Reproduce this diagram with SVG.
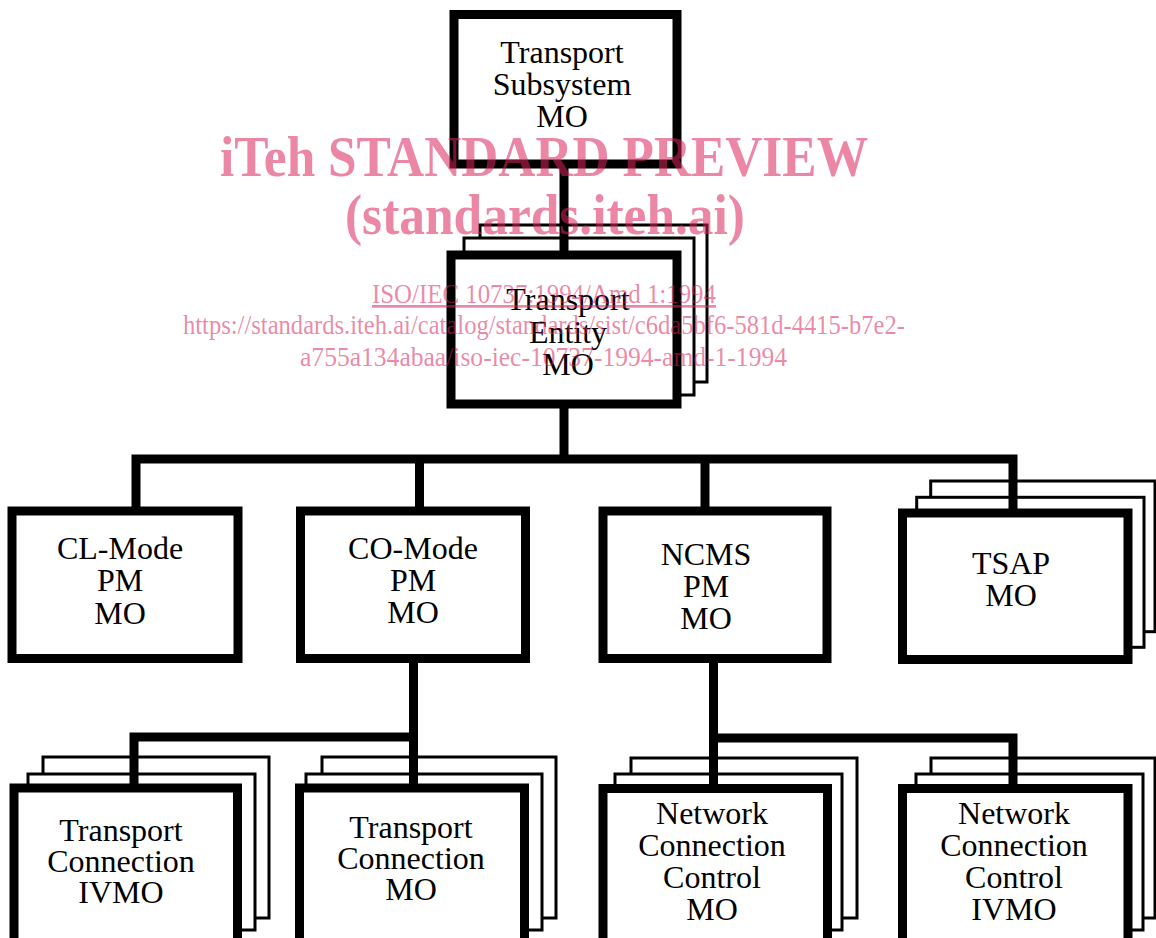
<svg xmlns="http://www.w3.org/2000/svg" width="1156" height="938" viewBox="0 0 1156 938">
<style>
.box{fill:#fff;stroke:#000;stroke-width:9}
.sheet{fill:#fff;stroke:#000;stroke-width:3}
.conn{fill:none;stroke:#000;stroke-width:9;stroke-linejoin:miter;stroke-linecap:butt}
.lbl{font-family:"Liberation Serif","Times New Roman",serif;font-size:32px;fill:#000;text-anchor:middle}
.wm{font-family:"Liberation Serif","Times New Roman",serif;fill:#DA245B;fill-opacity:0.55;text-anchor:middle}
.wmb{font-weight:bold;font-size:56px}
.wms{font-size:27px}
</style>
<rect width="1156" height="938" fill="#fff"/>
<g id="node-transport-subsystem">
<rect class="box" x="454" y="14.5" width="223" height="149.5"/>
<text class="lbl"><tspan x="562" y="63">Transport</tspan><tspan x="562" y="95">Subsystem</tspan><tspan x="562" y="127">MO</tspan></text>
</g>
<g id="node-transport-entity">
<rect class="sheet" x="480" y="225" width="227" height="157"/>
<rect class="sheet" x="464" y="238" width="230" height="157"/>
<rect class="box" x="451" y="255" width="226" height="149"/>
<text class="lbl"><tspan x="568" y="310">Transport</tspan><tspan x="568" y="343">Entity</tspan><tspan x="568" y="375">MO</tspan></text>
</g>
<g id="node-cl-mode">
<rect class="box" x="12" y="511" width="226" height="147.5"/>
<text class="lbl"><tspan x="120" y="559">CL-Mode</tspan><tspan x="120" y="591">PM</tspan><tspan x="120" y="624">MO</tspan></text>
</g>
<g id="node-co-mode">
<rect class="box" x="300.5" y="511" width="225" height="147.5"/>
<text class="lbl"><tspan x="413" y="559">CO-Mode</tspan><tspan x="413" y="591">PM</tspan><tspan x="413" y="623">MO</tspan></text>
</g>
<g id="node-ncms">
<rect class="box" x="603" y="511" width="224" height="147.5"/>
<text class="lbl"><tspan x="706" y="565">NCMS</tspan><tspan x="706" y="597">PM</tspan><tspan x="706" y="629">MO</tspan></text>
</g>
<g id="node-tsap">
<rect class="sheet" x="930.7" y="481" width="224.3" height="150.7"/>
<rect class="sheet" x="916.7" y="497.3" width="227.3" height="150"/>
<rect class="box" x="902.5" y="513" width="225.5" height="146.5"/>
<text class="lbl"><tspan x="1011" y="574">TSAP</tspan><tspan x="1011" y="606">MO</tspan></text>
</g>
<g id="node-tc-ivmo">
<rect class="sheet" x="43" y="757" width="226" height="161"/>
<rect class="sheet" x="28" y="774" width="227" height="156"/>
<rect class="box" x="14" y="788" width="223.5" height="160"/>
<text class="lbl"><tspan x="121" y="841">Transport</tspan><tspan x="121" y="872">Connection</tspan><tspan x="121" y="903">IVMO</tspan></text>
</g>
<g id="node-tc-mo">
<rect class="sheet" x="322" y="757" width="234" height="161"/>
<rect class="sheet" x="306" y="774" width="236" height="156"/>
<rect class="box" x="299.5" y="788" width="225" height="160"/>
<text class="lbl"><tspan x="411" y="838">Transport</tspan><tspan x="411" y="869">Connection</tspan><tspan x="411" y="900">MO</tspan></text>
</g>
<g id="node-ncc-mo">
<rect class="sheet" x="631" y="758" width="226" height="160"/>
<rect class="sheet" x="615" y="774" width="227" height="156"/>
<rect class="box" x="603" y="788.5" width="224.5" height="160"/>
<text class="lbl"><tspan x="712" y="824">Network</tspan><tspan x="712" y="856">Connection</tspan><tspan x="712" y="888">Control</tspan><tspan x="712" y="920">MO</tspan></text>
</g>
<g id="node-ncc-ivmo">
<rect class="sheet" x="931" y="758" width="224" height="160"/>
<rect class="sheet" x="916" y="774" width="227" height="156"/>
<rect class="box" x="902.5" y="788.5" width="225.5" height="160"/>
<text class="lbl"><tspan x="1014" y="824">Network</tspan><tspan x="1014" y="856">Connection</tspan><tspan x="1014" y="888">Control</tspan><tspan x="1014" y="920">IVMO</tspan></text>
</g>
<g id="connectors">
<path class="conn" d="M564,164 V255"/>
<path class="conn" d="M564,404 V459"/>
<path class="conn" d="M136,511 V459 H1013 V513"/>
<path class="conn" d="M419.5,459 V511"/>
<path class="conn" d="M705,459 V511"/>
<path class="conn" d="M413.5,658.5 V788"/>
<path class="conn" d="M134,788 V737 H413.5"/>
<path class="conn" d="M713.5,658.5 V788.5"/>
<path class="conn" d="M713.5,738 H1013 V788.5"/>
</g>
<g id="watermark">
<text class="wm wmb" x="544" y="176" textLength="648" lengthAdjust="spacingAndGlyphs">iTeh STANDARD PREVIEW</text>
<text class="wm wmb" x="545" y="234" textLength="400" lengthAdjust="spacingAndGlyphs">(standards.iteh.ai)</text>
<text class="wm wms" x="544" y="303" textLength="344" lengthAdjust="spacingAndGlyphs" text-decoration="underline">ISO/IEC 10737:1994/Amd 1:1994</text>
<text class="wm wms" x="544" y="334" textLength="722" lengthAdjust="spacingAndGlyphs">https://standards.iteh.ai/catalog/standards/sist/c6da5bf6-581d-4415-b7e2-</text>
<text class="wm wms" x="543.5" y="366" textLength="487" lengthAdjust="spacingAndGlyphs">a755a134abaa/iso-iec-10737-1994-amd-1-1994</text>
</g>
</svg>
